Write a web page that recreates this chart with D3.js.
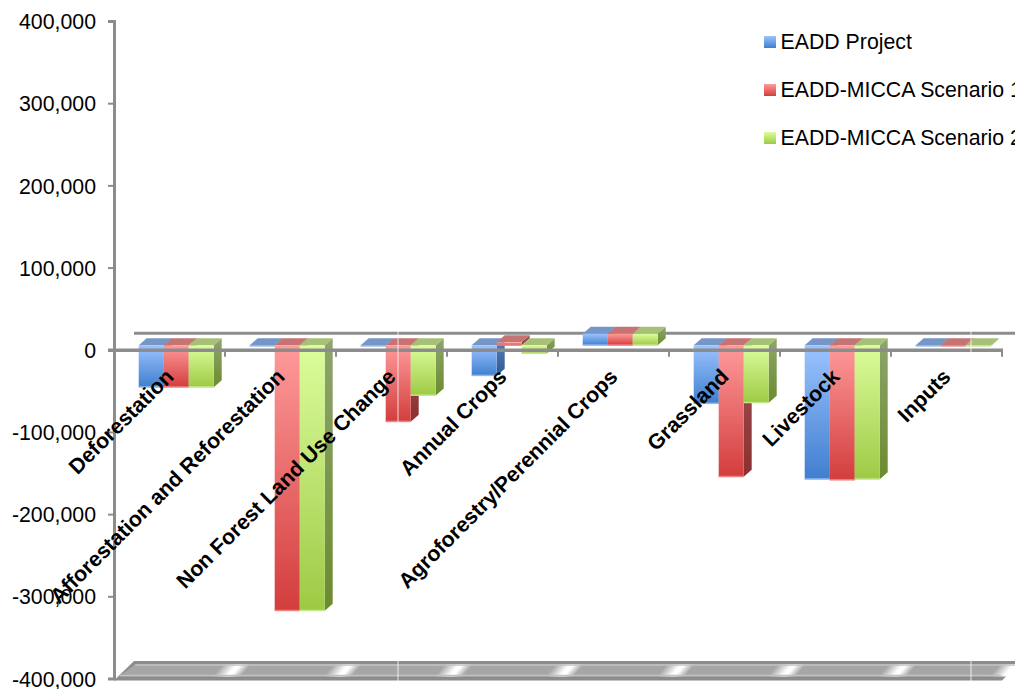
<!DOCTYPE html>
<html>
<head>
<meta charset="utf-8">
<script src="https://cdn.jsdelivr.net/npm/d3@7/dist/d3.min.js"></script>
<style>
  html, body { margin: 0; padding: 0; background: #fff; overflow: hidden; }
  text { font-family: "Liberation Sans", Arial, Helvetica, sans-serif; fill: #000; }
</style>
</head>
<body>
<svg id="chart" width="1015" height="689"></svg>
<script>
// Carbon balance by land-use category
const categories = ["Deforestation", "Afforestation and Reforestation", "Non Forest Land Use Change",
  "Annual Crops", "Agroforestry/Perennial Crops", "Grassland", "Livestock", "Inputs"];
const seriesNames = ["EADD Project", "EADD-MICCA Scenario 1", "EADD-MICCA Scenario 2"];
const eaddProject = [-51000, -1000, -1000, -37000, 14000, -71000, -163000, -1000];
const miccaScenario1 = [-51000, -323000, -93000, 3500, 14000, -160000, -164000, -1000];
const miccaScenario2 = [-51000, -323000, -61000, -10000, 14000, -70000, -163000, -1000];
const seriesValues = [eaddProject, miccaScenario1, miccaScenario2];
const yTicks = [-400000, -300000, -200000, -100000, 0, 100000, 200000, 300000, 400000];

const palette = [
  { top: "#7596c6", light: "#9cc3ff", dark: "#3f7fcf", edge: "#8db8ee", sideA: "#5d7fb4", sideB: "#2f5a94" },
  { top: "#c67373", light: "#ff9a9a", dark: "#d33d3d", edge: "#f08080", sideA: "#a05555", sideB: "#8a3030" },
  { top: "#a6c177", light: "#dcfd9c", dark: "#9dca45", edge: "#c6e58a", sideA: "#8ea56c", sideB: "#6b8b2f" }
];

const svg = d3.select("#chart");
const defs = svg.append("defs");
const vGrad = (id, a, b) => {
  const g = defs.append("linearGradient").attr("id", id).attr("x1", 0).attr("y1", 0).attr("x2", 0).attr("y2", 1);
  g.append("stop").attr("offset", 0).attr("stop-color", a);
  g.append("stop").attr("offset", 1).attr("stop-color", b);
};
palette.forEach((p, i) => {
  vGrad("front" + i, p.light, p.dark);
  vGrad("side" + i, p.sideA, p.sideB);
});
const sheen = defs.append("linearGradient").attr("id", "sheen");
sheen.append("stop").attr("offset", 0).attr("stop-color", "#fff").attr("stop-opacity", 0);
sheen.append("stop").attr("offset", 0.5).attr("stop-color", "#fff").attr("stop-opacity", 1);
sheen.append("stop").attr("offset", 0.65).attr("stop-color", "#fff").attr("stop-opacity", 1);
sheen.append("stop").attr("offset", 1).attr("stop-color", "#fff").attr("stop-opacity", 0);

const axisGray = "#8c8c8c";
const y = d3.scaleLinear().domain([-400000, 400000]).range([678.5, 21]);
const x = d3.scaleBand().domain(categories).range([114, 1002]);
const inner = d3.scaleBand().domain(d3.range(3)).range([24.7, 24.7 + 75]);

// Depth of the oblique projection
const barDx = 8, barDy = 7, planeLift = 4.5;
const wallDx = 20, wallDy = 17;
const pts = a => a.map(p => p.join(",")).join(" ");

// Floor slab
const floorY = y(-400000);
const floor = svg.append("g");
const bandTop = floorY - wallDy + 2.5, bandBottom = floorY - 2;
floor.append("polygon").attr("fill", axisGray)
  .attr("points", pts([[114, floorY + 2], [134, floorY - wallDy - 0.5], [1015, floorY - wallDy - 0.5], [1015, floorY - 11.5], [1002, floorY + 2]]));
floor.append("polygon").attr("fill", "#a6a6a6")
  .attr("points", pts([[119, bandBottom], [136, bandTop], [1015, bandTop], [1015, floorY - 11.5], [1000, bandBottom]]));
// Slanted highlights repeating once per category
floor.selectAll("rect.sheen").data(categories).join("rect").attr("class", "sheen")
  .attr("fill", "url(#sheen)")
  .attr("x", -16).attr("y", bandTop - floorY).attr("width", 28).attr("height", bandBottom - bandTop)
  .attr("transform", d => `translate(${x(d) + x.step() + 2},${floorY}) skewX(-40)`);
floor.append("line").attr("x1", 135).attr("x2", 1015).attr("y1", bandTop + 1).attr("y2", bandTop + 1)
  .attr("stroke", "#c2c2c2").attr("stroke-width", 1.5);
floor.append("line").attr("x1", 120).attr("x2", 1001).attr("y1", floorY - 3).attr("y2", floorY - 3)
  .attr("stroke", "#c2c2c2").attr("stroke-width", 1.5);

// Zero line on the back wall
svg.append("line").attr("x1", 114 + wallDx).attr("x2", 1015)
  .attr("y1", y(0) - wallDy + 0.5).attr("y2", y(0) - wallDy + 0.5)
  .attr("stroke", axisGray).attr("stroke-width", 3);

// Bars: front, side and top faces
const rows = categories.flatMap((c, ci) => seriesValues.map((vals, si) => ({ c, si, v: vals[ci] })));
const bars = svg.append("g").selectAll("g").data(rows).join("g");
const geom = d => {
  const x0 = x(d.c) + inner(d.si), w = inner.bandwidth();
  const a = y(0) - planeLift, b = y(d.v) - planeLift;
  return { x0, w, top: Math.min(a, b), bot: Math.max(a, b) };
};
bars.append("polygon").attr("fill", d => `url(#side${d.si})`)
  .attr("points", d => { const g = geom(d);
    return pts([[g.x0 + g.w, g.top], [g.x0 + g.w + barDx, g.top - barDy], [g.x0 + g.w + barDx, g.bot - barDy], [g.x0 + g.w, g.bot]]); });
bars.append("polygon").attr("fill", d => palette[d.si].top)
  .attr("points", d => { const g = geom(d);
    return pts([[g.x0, g.top], [g.x0 + barDx, g.top - barDy], [g.x0 + g.w + barDx, g.top - barDy], [g.x0 + g.w, g.top]]); });
bars.append("rect").attr("fill", d => `url(#front${d.si})`)
  .attr("x", d => geom(d).x0).attr("y", d => geom(d).top)
  .attr("width", d => geom(d).w).attr("height", d => geom(d).bot - geom(d).top);
bars.append("rect").attr("fill", d => palette[d.si].edge)
  .attr("x", d => geom(d).x0).attr("y", d => geom(d).bot - 1)
  .attr("width", d => geom(d).w).attr("height", 1.5);

// Value axis
const yAxis = d3.axisLeft(y).tickValues(yTicks).tickSize(6).tickPadding(12)
  .tickFormat(v => d3.format(",")(v).replace("\u2212", "-"));
const yG = svg.append("g").attr("transform", "translate(114,0)").call(yAxis);
yG.select(".domain").attr("stroke", axisGray).attr("stroke-width", 3);
yG.selectAll(".tick line").attr("stroke", axisGray).attr("stroke-width", 2);
yG.selectAll(".tick text").attr("y", 0.8).style("font-size", "21.3px").attr("font-family", null);

// Category axis along the zero line
svg.append("line").attr("x1", 108).attr("x2", 1003).attr("y1", y(0) + 0.5).attr("y2", y(0) + 0.5)
  .attr("stroke", axisGray).attr("stroke-width", 3.5);
svg.append("g").selectAll("line").data(categories).join("line")
  .attr("x1", d => x(d) + x.step()).attr("x2", d => x(d) + x.step())
  .attr("y1", y(0)).attr("y2", y(0) + 7)
  .attr("stroke", axisGray).attr("stroke-width", 2);

// Thin vertical seams across the plot
svg.append("g").selectAll("line").data([398, 971]).join("line")
  .attr("x1", d => d).attr("x2", d => d).attr("y1", 0).attr("y2", 689)
  .attr("stroke", "#fff").attr("stroke-width", 1).attr("opacity", 0.8);

// Slanted category labels
svg.append("g").selectAll("text").data(categories).join("text")
  .attr("text-anchor", "end").style("font-size", "21.4px").style("font-weight", "bold")
  .attr("transform", d => `translate(${x(d) + x.step() / 2 + 5.5},378) rotate(-45)`)
  .text(d => d);

// Legend
const legendY = d3.scalePoint().domain(seriesNames).range([42, 138]);
const legend = svg.append("g").selectAll("g").data(seriesNames).join("g")
  .attr("transform", d => `translate(764,${legendY(d)})`);
legend.append("rect").attr("x", 0).attr("y", -6).attr("width", 12).attr("height", 12)
  .attr("fill", (d, i) => `url(#front${i})`);
legend.append("text").attr("x", 16.5).attr("y", 6.5).style("font-size", "21.3px").text(d => d);
</script>
</body>
</html>
